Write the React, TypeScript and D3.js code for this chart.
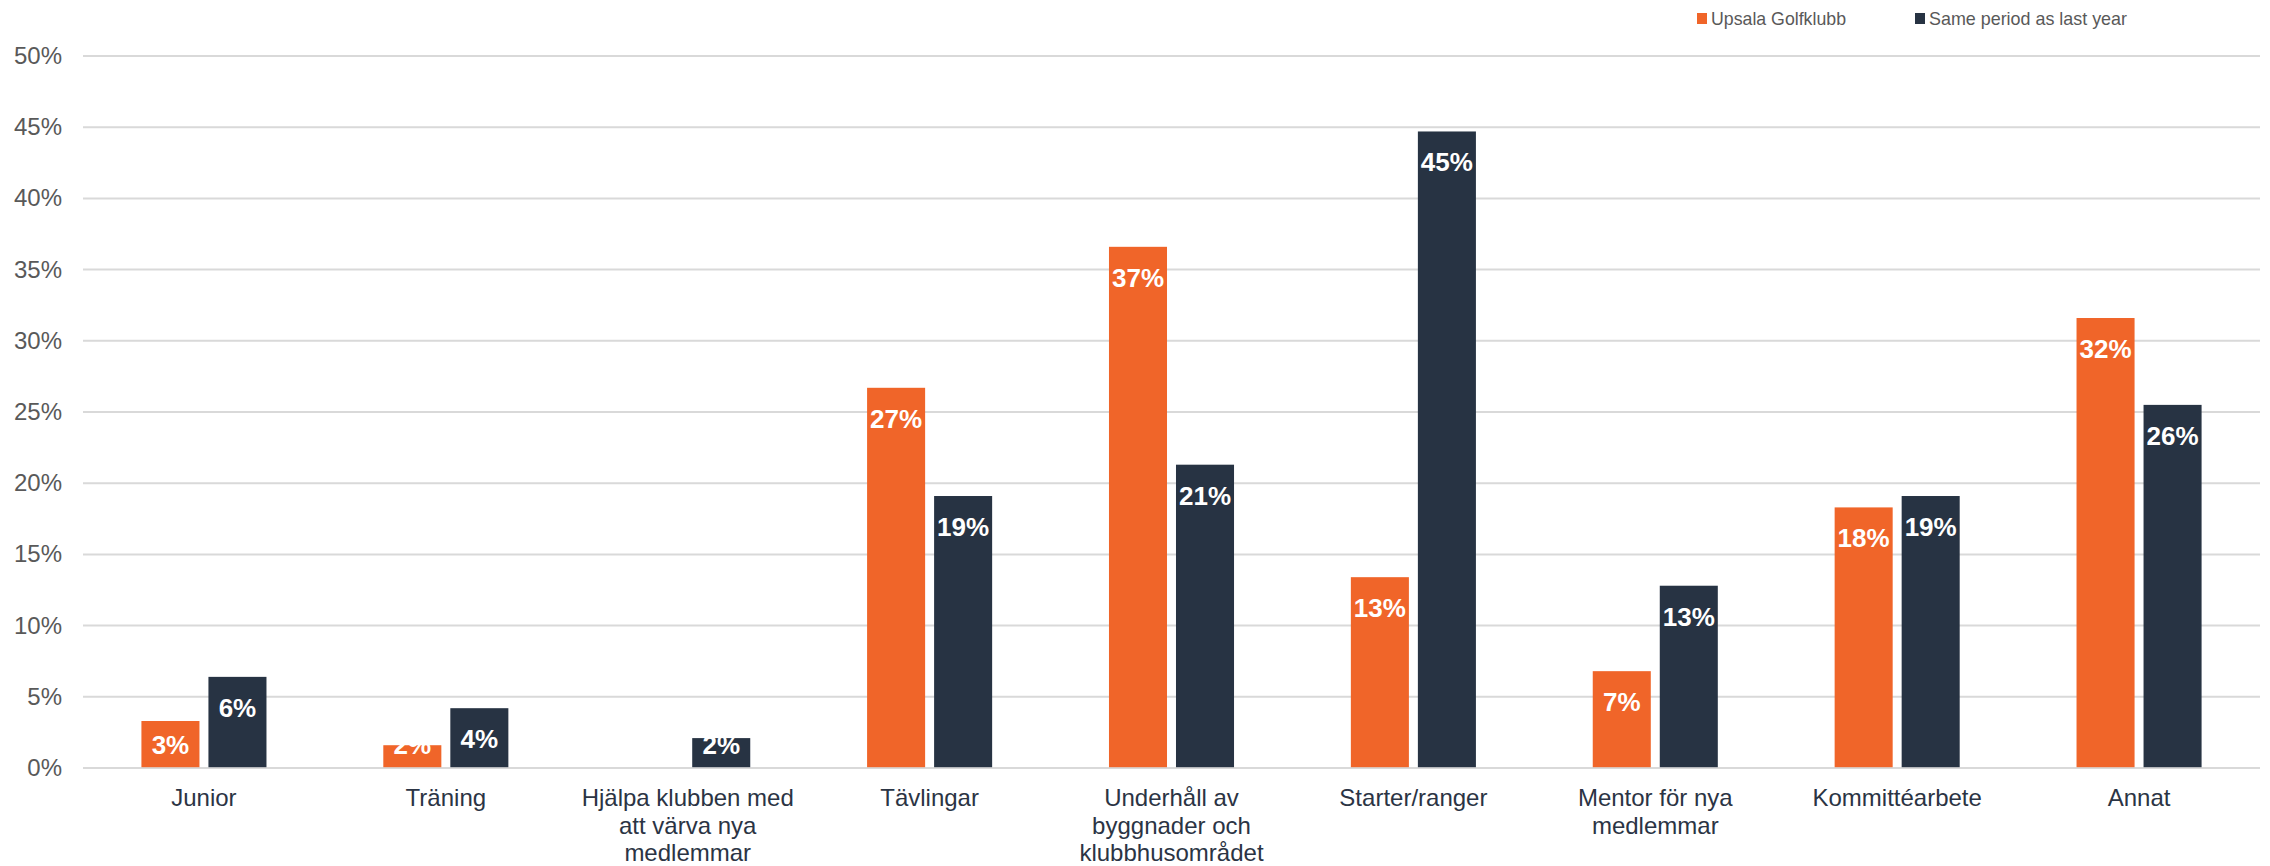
import React from "react";
import * as d3 from "d3";

const categories: string[] = [
  "Junior",
  "Träning",
  "Hjälpa klubben med\natt värva nya\nmedlemmar",
  "Tävlingar",
  "Underhåll av\nbyggnader och\nklubbhusområdet",
  "Starter/ranger",
  "Mentor för nya\nmedlemmar",
  "Kommittéarbete",
  "Annat",
];
const seriesNames: string[] = ["Upsala Golfklubb", "Same period as last year"];
const upsala: number[] = [3.3, 1.6, 0, 26.7, 36.6, 13.4, 6.8, 18.3, 31.6];
const lastYear: number[] = [6.4, 4.2, 2.1, 19.1, 21.3, 44.7, 12.8, 19.1, 25.5];
const yTicks: number[] = [0, 5, 10, 15, 20, 25, 30, 35, 40, 45, 50];
const colors: string[] = ["#F06529", "#273343"];

const W = 2270;
const H = 866;
const left = 83;
const right = 2260;
const top = 56;
const bottom = 768;

export default function App() {
  const y = d3.scaleLinear().domain([0, 50]).range([bottom, top]);
  const x0 = d3
    .scaleBand<string>()
    .domain(categories)
    .range([left, right])
    .paddingInner(0.483)
    .paddingOuter(0.2415);
  const x1 = d3
    .scaleBand<string>()
    .domain(seriesNames)
    .range([0, x0.bandwidth()])
    .paddingInner(0.134)
    .paddingOuter(0);
  const series = [upsala, lastYear];

  return (
    <svg
      width={W}
      height={H}
      style={{ position: "absolute", left: 0, top: 0, display: "block", background: "#fff" }}
      fontFamily="'Liberation Sans', Arial, sans-serif"
    >
      {yTicks.map((t) => (
        <g key={t}>
          <line x1={left} x2={right} y1={y(t)} y2={y(t)} stroke="#d9d9d9" strokeWidth={2} />
          <text x={62} y={y(t) + 8} textAnchor="end" fontSize={24} fill="#595959">
            {t}%
          </text>
        </g>
      ))}
      {categories.map((c, i) => (
        <g key={c} transform={`translate(${x0(c)},0)`}>
          {seriesNames.map((s, k) => {
            const v = series[k][i];
            if (v <= 0) return null;
            const bx = x1(s)!;
            const bw = x1.bandwidth();
            const yt = y(v);
            const base = Math.min(yt + 40, 754);
            return (
              <g key={s}>
                <rect x={bx} y={yt} width={bw} height={y(0) - yt} fill={colors[k]} />
                <text
                  x={bx + bw / 2}
                  y={base}
                  textAnchor="middle"
                  fontSize={26}
                  fontWeight="bold"
                  fill="#ffffff"
                >
                  {Math.round(v)}%
                </text>
              </g>
            );
          })}
          {c.split("\n").map((line, li) => (
            <text
              key={li}
              x={x0.bandwidth() / 2}
              y={806 + li * 27.5}
              textAnchor="middle"
              fontSize={24}
              fill="#2B3444"
            >
              {line}
            </text>
          ))}
        </g>
      ))}
      <line x1={left} x2={right} y1={bottom} y2={bottom} stroke="#d9d9d9" strokeWidth={2} opacity={0.8} />
      {seriesNames.map((s, k) => {
        const lx = [1697, 1915][k];
        const tl = [135, 198][k];
        return (
          <g key={s}>
            <rect x={lx} y={13} width={10} height={11} fill={colors[k]} />
            <text
              x={lx + 14}
              y={25}
              fontSize={19}
              fill="#595959"
              textLength={tl}
              lengthAdjust="spacingAndGlyphs"
            >
              {s}
            </text>
          </g>
        );
      })}
    </svg>
  );
}
